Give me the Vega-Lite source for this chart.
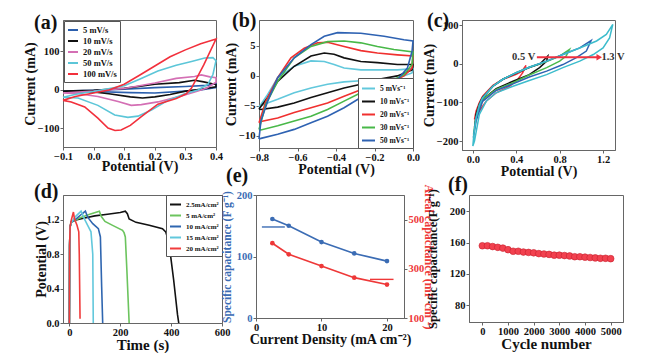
{
  "$schema": "https://vega.github.io/schema/vega-lite/v6.json",
  "padding": {"left": 22, "top": 10, "right": 0, "bottom": 0},
  "background": "white",
  "spacing": -14,
  "resolve": {"scale": {"color": "independent", "x": "independent", "y": "independent"}, "legend": {"color": "independent"}},
  "config": {
    "font": "Liberation Serif",
    "view": {"stroke": "#666", "strokeWidth": 1},
    "axis": {"grid": false, "labelFont": "Liberation Serif", "labelFontWeight": "bold", "labelFontSize": 10.5, "labelColor": "#111", "titleFont": "Liberation Serif", "titleFontWeight": "bold", "titleFontSize": 14, "titleColor": "#111", "domainColor": "#666", "tickColor": "#666", "tickSize": 3, "labelPadding": 1, "titlePadding": 0, "labelFlush": false, "labelOverlap": false, "labelBound": false},
    "title": {"font": "Liberation Serif", "fontSize": 20, "fontWeight": "bold", "anchor": "start", "frame": "group", "color": "#111"},
    "legend": {"labelFont": "Liberation Serif", "labelFontWeight": "bold", "labelColor": "#111", "symbolType": "stroke", "symbolStrokeWidth": 2, "strokeColor": "#555", "fillColor": "white", "padding": 3, "rowPadding": 0, "title": null}
  },
  "datasets": {
    "a": [
      {"s":"5 mV/s","v":-0.1,"c":-3},{"s":"5 mV/s","v":0.0,"c":-1},{"s":"5 mV/s","v":0.1,"c":2},{"s":"5 mV/s","v":0.2,"c":6},{"s":"5 mV/s","v":0.3,"c":9},{"s":"5 mV/s","v":0.37,"c":12},{"s":"5 mV/s","v":0.4,"c":16},{"s":"5 mV/s","v":0.4,"c":6},{"s":"5 mV/s","v":0.35,"c":0},{"s":"5 mV/s","v":0.3,"c":-3},{"s":"5 mV/s","v":0.2,"c":-8},{"s":"5 mV/s","v":0.12,"c":-7},{"s":"5 mV/s","v":0.0,"c":-4},{"s":"5 mV/s","v":-0.1,"c":-3},
      {"s":"10 mV/s","v":-0.1,"c":-3},{"s":"10 mV/s","v":0.0,"c":-1},{"s":"10 mV/s","v":0.1,"c":4},{"s":"10 mV/s","v":0.2,"c":15},{"s":"10 mV/s","v":0.28,"c":19},{"s":"10 mV/s","v":0.33,"c":25},{"s":"10 mV/s","v":0.36,"c":21},{"s":"10 mV/s","v":0.4,"c":14},{"s":"10 mV/s","v":0.4,"c":8},{"s":"10 mV/s","v":0.35,"c":2},{"s":"10 mV/s","v":0.3,"c":-3},{"s":"10 mV/s","v":0.25,"c":-12},{"s":"10 mV/s","v":0.2,"c":-18},{"s":"10 mV/s","v":0.16,"c":-21},{"s":"10 mV/s","v":0.12,"c":-18},{"s":"10 mV/s","v":0.05,"c":-10},{"s":"10 mV/s","v":0.0,"c":-5},{"s":"10 mV/s","v":-0.1,"c":-3},
      {"s":"20 mV/s","v":-0.1,"c":-8},{"s":"20 mV/s","v":0.0,"c":-3},{"s":"20 mV/s","v":0.1,"c":4},{"s":"20 mV/s","v":0.2,"c":18},{"s":"20 mV/s","v":0.27,"c":30},{"s":"20 mV/s","v":0.33,"c":35},{"s":"20 mV/s","v":0.352,"c":39},{"s":"20 mV/s","v":0.38,"c":34},{"s":"20 mV/s","v":0.4,"c":32},{"s":"20 mV/s","v":0.4,"c":20},{"s":"20 mV/s","v":0.37,"c":5},{"s":"20 mV/s","v":0.341,"c":-3},{"s":"20 mV/s","v":0.276,"c":-18},{"s":"20 mV/s","v":0.21,"c":-31},{"s":"20 mV/s","v":0.156,"c":-38},{"s":"20 mV/s","v":0.123,"c":-40},{"s":"20 mV/s","v":0.08,"c":-30},{"s":"20 mV/s","v":0.014,"c":-17},{"s":"20 mV/s","v":-0.05,"c":-10},{"s":"20 mV/s","v":-0.1,"c":-8},
      {"s":"50 mV/s","v":-0.1,"c":-19},{"s":"50 mV/s","v":-0.05,"c":-10},{"s":"50 mV/s","v":0.0,"c":-4},{"s":"50 mV/s","v":0.1,"c":11},{"s":"50 mV/s","v":0.15,"c":28},{"s":"50 mV/s","v":0.21,"c":49},{"s":"50 mV/s","v":0.27,"c":64},{"s":"50 mV/s","v":0.32,"c":74},{"s":"50 mV/s","v":0.363,"c":83},{"s":"50 mV/s","v":0.39,"c":84},{"s":"50 mV/s","v":0.4,"c":76},{"s":"50 mV/s","v":0.39,"c":40},{"s":"50 mV/s","v":0.374,"c":15},{"s":"50 mV/s","v":0.341,"c":0},{"s":"50 mV/s","v":0.298,"c":-10},{"s":"50 mV/s","v":0.243,"c":-27},{"s":"50 mV/s","v":0.189,"c":-52},{"s":"50 mV/s","v":0.145,"c":-68},{"s":"50 mV/s","v":0.112,"c":-71},{"s":"50 mV/s","v":0.069,"c":-65},{"s":"50 mV/s","v":0.014,"c":-40},{"s":"50 mV/s","v":-0.051,"c":-21},{"s":"50 mV/s","v":-0.1,"c":-19},
      {"s":"100 mV/s","v":-0.1,"c":-27},{"s":"100 mV/s","v":-0.06,"c":-17},{"s":"100 mV/s","v":0.0,"c":-8},{"s":"100 mV/s","v":0.05,"c":0},{"s":"100 mV/s","v":0.1,"c":15},{"s":"100 mV/s","v":0.15,"c":38},{"s":"100 mV/s","v":0.2,"c":62},{"s":"100 mV/s","v":0.25,"c":86},{"s":"100 mV/s","v":0.3,"c":104},{"s":"100 mV/s","v":0.35,"c":120},{"s":"100 mV/s","v":0.4,"c":132},{"s":"100 mV/s","v":0.36,"c":65},{"s":"100 mV/s","v":0.32,"c":5},{"s":"100 mV/s","v":0.303,"c":-10},{"s":"100 mV/s","v":0.27,"c":-22},{"s":"100 mV/s","v":0.21,"c":-37},{"s":"100 mV/s","v":0.156,"c":-69},{"s":"100 mV/s","v":0.12,"c":-92},{"s":"100 mV/s","v":0.09,"c":-104},{"s":"100 mV/s","v":0.07,"c":-105},{"s":"100 mV/s","v":0.047,"c":-99},{"s":"100 mV/s","v":0.014,"c":-73},{"s":"100 mV/s","v":-0.029,"c":-44},{"s":"100 mV/s","v":-0.073,"c":-31},{"s":"100 mV/s","v":-0.1,"c":-27}
    ],
    "b": [
      {"s":"5 mVs⁻¹","v":-0.8,"c":-5.2},{"s":"5 mVs⁻¹","v":-0.755,"c":-3.1},{"s":"5 mVs⁻¹","v":-0.703,"c":-0.3},{"s":"5 mVs⁻¹","v":-0.617,"c":1.6},{"s":"5 mVs⁻¹","v":-0.53,"c":2.5},{"s":"5 mVs⁻¹","v":-0.461,"c":2.4},{"s":"5 mVs⁻¹","v":-0.41,"c":1.9},{"s":"5 mVs⁻¹","v":-0.358,"c":1.3},{"s":"5 mVs⁻¹","v":-0.271,"c":1.0},{"s":"5 mVs⁻¹","v":-0.185,"c":1.0},{"s":"5 mVs⁻¹","v":-0.081,"c":1.0},{"s":"5 mVs⁻¹","v":0,"c":1.2},{"s":"5 mVs⁻¹","v":-0.005,"c":0.5},{"s":"5 mVs⁻¹","v":-0.081,"c":-0.4},{"s":"5 mVs⁻¹","v":-0.185,"c":-0.6},{"s":"5 mVs⁻¹","v":-0.271,"c":-0.8},{"s":"5 mVs⁻¹","v":-0.358,"c":-1.0},{"s":"5 mVs⁻¹","v":-0.444,"c":-1.4},{"s":"5 mVs⁻¹","v":-0.53,"c":-2.0},{"s":"5 mVs⁻¹","v":-0.617,"c":-2.8},{"s":"5 mVs⁻¹","v":-0.703,"c":-3.9},{"s":"5 mVs⁻¹","v":-0.773,"c":-4.7},{"s":"5 mVs⁻¹","v":-0.8,"c":-5.2},
      {"s":"10 mVs⁻¹","v":-0.8,"c":-5.5},{"s":"10 mVs⁻¹","v":-0.755,"c":-3.6},{"s":"10 mVs⁻¹","v":-0.703,"c":-0.9},{"s":"10 mVs⁻¹","v":-0.617,"c":1.6},{"s":"10 mVs⁻¹","v":-0.53,"c":3.3},{"s":"10 mVs⁻¹","v":-0.461,"c":3.8},{"s":"10 mVs⁻¹","v":-0.41,"c":3.6},{"s":"10 mVs⁻¹","v":-0.358,"c":3.0},{"s":"10 mVs⁻¹","v":-0.271,"c":2.4},{"s":"10 mVs⁻¹","v":-0.185,"c":2.2},{"s":"10 mVs⁻¹","v":-0.081,"c":1.9},{"s":"10 mVs⁻¹","v":0,"c":1.9},{"s":"10 mVs⁻¹","v":-0.005,"c":1.0},{"s":"10 mVs⁻¹","v":-0.081,"c":0},{"s":"10 mVs⁻¹","v":-0.185,"c":-0.6},{"s":"10 mVs⁻¹","v":-0.271,"c":-1.4},{"s":"10 mVs⁻¹","v":-0.358,"c":-2.0},{"s":"10 mVs⁻¹","v":-0.444,"c":-2.8},{"s":"10 mVs⁻¹","v":-0.53,"c":-3.6},{"s":"10 mVs⁻¹","v":-0.617,"c":-4.5},{"s":"10 mVs⁻¹","v":-0.703,"c":-5.2},{"s":"10 mVs⁻¹","v":-0.79,"c":-5.6},{"s":"10 mVs⁻¹","v":-0.8,"c":-5.5},
      {"s":"20 mVs⁻¹","v":-0.8,"c":-7.8},{"s":"20 mVs⁻¹","v":-0.764,"c":-4.2},{"s":"20 mVs⁻¹","v":-0.703,"c":-0.3},{"s":"20 mVs⁻¹","v":-0.634,"c":3.0},{"s":"20 mVs⁻¹","v":-0.565,"c":4.6},{"s":"20 mVs⁻¹","v":-0.496,"c":5.5},{"s":"20 mVs⁻¹","v":-0.444,"c":5.6},{"s":"20 mVs⁻¹","v":-0.358,"c":4.9},{"s":"20 mVs⁻¹","v":-0.271,"c":4.2},{"s":"20 mVs⁻¹","v":-0.185,"c":3.8},{"s":"20 mVs⁻¹","v":-0.081,"c":3.5},{"s":"20 mVs⁻¹","v":0,"c":3.3},{"s":"20 mVs⁻¹","v":-0.005,"c":1.3},{"s":"20 mVs⁻¹","v":-0.047,"c":0},{"s":"20 mVs⁻¹","v":-0.099,"c":-0.8},{"s":"20 mVs⁻¹","v":-0.185,"c":-1.4},{"s":"20 mVs⁻¹","v":-0.271,"c":-2.3},{"s":"20 mVs⁻¹","v":-0.358,"c":-3.4},{"s":"20 mVs⁻¹","v":-0.444,"c":-4.5},{"s":"20 mVs⁻¹","v":-0.53,"c":-5.3},{"s":"20 mVs⁻¹","v":-0.617,"c":-6.1},{"s":"20 mVs⁻¹","v":-0.703,"c":-7.0},{"s":"20 mVs⁻¹","v":-0.79,"c":-7.6},{"s":"20 mVs⁻¹","v":-0.8,"c":-7.8},
      {"s":"30 mVs⁻¹","v":-0.8,"c":-8.9},{"s":"30 mVs⁻¹","v":-0.764,"c":-4.7},{"s":"30 mVs⁻¹","v":-0.703,"c":-0.9},{"s":"30 mVs⁻¹","v":-0.617,"c":3.0},{"s":"30 mVs⁻¹","v":-0.53,"c":4.9},{"s":"30 mVs⁻¹","v":-0.444,"c":5.7},{"s":"30 mVs⁻¹","v":-0.358,"c":5.8},{"s":"30 mVs⁻¹","v":-0.271,"c":5.5},{"s":"30 mVs⁻¹","v":-0.185,"c":4.9},{"s":"30 mVs⁻¹","v":-0.099,"c":4.4},{"s":"30 mVs⁻¹","v":0,"c":4.0},{"s":"30 mVs⁻¹","v":-0.005,"c":1.9},{"s":"30 mVs⁻¹","v":-0.047,"c":0.2},{"s":"30 mVs⁻¹","v":-0.099,"c":-0.6},{"s":"30 mVs⁻¹","v":-0.185,"c":-1.4},{"s":"30 mVs⁻¹","v":-0.271,"c":-2.8},{"s":"30 mVs⁻¹","v":-0.358,"c":-4.2},{"s":"30 mVs⁻¹","v":-0.444,"c":-5.6},{"s":"30 mVs⁻¹","v":-0.53,"c":-6.7},{"s":"30 mVs⁻¹","v":-0.617,"c":-7.5},{"s":"30 mVs⁻¹","v":-0.703,"c":-8.3},{"s":"30 mVs⁻¹","v":-0.79,"c":-9.0},{"s":"30 mVs⁻¹","v":-0.8,"c":-8.9},
      {"s":"50 mVs⁻¹","v":-0.8,"c":-10.5},{"s":"50 mVs⁻¹","v":-0.79,"c":-7.5},{"s":"50 mVs⁻¹","v":-0.755,"c":-4.2},{"s":"50 mVs⁻¹","v":-0.703,"c":-0.3},{"s":"50 mVs⁻¹","v":-0.617,"c":3.0},{"s":"50 mVs⁻¹","v":-0.53,"c":5.2},{"s":"50 mVs⁻¹","v":-0.461,"c":6.6},{"s":"50 mVs⁻¹","v":-0.392,"c":7.2},{"s":"50 mVs⁻¹","v":-0.271,"c":7.1},{"s":"50 mVs⁻¹","v":-0.15,"c":6.6},{"s":"50 mVs⁻¹","v":-0.047,"c":6.0},{"s":"50 mVs⁻¹","v":0,"c":5.8},{"s":"50 mVs⁻¹","v":-0.005,"c":4.1},{"s":"50 mVs⁻¹","v":-0.029,"c":1.3},{"s":"50 mVs⁻¹","v":-0.081,"c":-0.6},{"s":"50 mVs⁻¹","v":-0.185,"c":-2.0},{"s":"50 mVs⁻¹","v":-0.271,"c":-3.6},{"s":"50 mVs⁻¹","v":-0.358,"c":-5.3},{"s":"50 mVs⁻¹","v":-0.444,"c":-6.7},{"s":"50 mVs⁻¹","v":-0.53,"c":-7.8},{"s":"50 mVs⁻¹","v":-0.617,"c":-8.9},{"s":"50 mVs⁻¹","v":-0.703,"c":-9.7},{"s":"50 mVs⁻¹","v":-0.79,"c":-10.4},{"s":"50 mVs⁻¹","v":-0.8,"c":-10.5}
    ],
    "c": [
      {"s":"0.5","v":0.015,"c":-144},{"s":"0.5","v":0.03,"c":-122},{"s":"0.5","v":0.06,"c":-100},{"s":"0.5","v":0.09,"c":-84},{"s":"0.5","v":0.185,"c":-56},{"s":"0.5","v":0.277,"c":-40},{"s":"0.5","v":0.4,"c":-27},{"s":"0.5","v":0.45,"c":-20},{"s":"0.5","v":0.49,"c":-4},{"s":"0.5","v":0.46,"c":-23},{"s":"0.5","v":0.415,"c":-40},{"s":"0.5","v":0.34,"c":-58},{"s":"0.5","v":0.215,"c":-75},{"s":"0.5","v":0.123,"c":-97},{"s":"0.5","v":0.06,"c":-122},{"s":"0.5","v":0.015,"c":-144},
      {"s":"0.7","v":0.015,"c":-165},{"s":"0.7","v":0.03,"c":-130},{"s":"0.7","v":0.06,"c":-104},{"s":"0.7","v":0.09,"c":-87},{"s":"0.7","v":0.185,"c":-58},{"s":"0.7","v":0.277,"c":-40},{"s":"0.7","v":0.4,"c":-24},{"s":"0.7","v":0.52,"c":-10},{"s":"0.7","v":0.62,"c":0},{"s":"0.7","v":0.69,"c":20},{"s":"0.7","v":0.68,"c":7},{"s":"0.7","v":0.615,"c":-10},{"s":"0.7","v":0.52,"c":-28},{"s":"0.7","v":0.37,"c":-45},{"s":"0.7","v":0.215,"c":-64},{"s":"0.7","v":0.09,"c":-92},{"s":"0.7","v":0.03,"c":-135},{"s":"0.7","v":0.015,"c":-165},
      {"s":"0.9","v":0.006,"c":-183},{"s":"0.9","v":0.03,"c":-138},{"s":"0.9","v":0.06,"c":-106},{"s":"0.9","v":0.09,"c":-88},{"s":"0.9","v":0.185,"c":-58},{"s":"0.9","v":0.277,"c":-40},{"s":"0.9","v":0.4,"c":-23},{"s":"0.9","v":0.52,"c":-9},{"s":"0.9","v":0.68,"c":6},{"s":"0.9","v":0.8,"c":20},{"s":"0.9","v":0.89,"c":37},{"s":"0.9","v":0.86,"c":20},{"s":"0.9","v":0.8,"c":7},{"s":"0.9","v":0.68,"c":-10},{"s":"0.9","v":0.52,"c":-29},{"s":"0.9","v":0.37,"c":-49},{"s":"0.9","v":0.215,"c":-66},{"s":"0.9","v":0.09,"c":-92},{"s":"0.9","v":0.03,"c":-140},{"s":"0.9","v":0.006,"c":-183},
      {"s":"1.1","v":0.005,"c":-191},{"s":"1.1","v":0.03,"c":-140},{"s":"1.1","v":0.06,"c":-107},{"s":"1.1","v":0.09,"c":-88},{"s":"1.1","v":0.185,"c":-58},{"s":"1.1","v":0.277,"c":-40},{"s":"1.1","v":0.4,"c":-23},{"s":"1.1","v":0.52,"c":-9},{"s":"1.1","v":0.68,"c":7},{"s":"1.1","v":0.83,"c":24},{"s":"1.1","v":0.985,"c":41},{"s":"1.1","v":1.09,"c":60},{"s":"1.1","v":1.046,"c":33},{"s":"1.1","v":0.954,"c":16},{"s":"1.1","v":0.83,"c":-2},{"s":"1.1","v":0.68,"c":-19},{"s":"1.1","v":0.52,"c":-34},{"s":"1.1","v":0.37,"c":-52},{"s":"1.1","v":0.215,"c":-69},{"s":"1.1","v":0.09,"c":-97},{"s":"1.1","v":0.03,"c":-148},{"s":"1.1","v":0.005,"c":-191},
      {"s":"1.3","v":0.0,"c":-213},{"s":"1.3","v":0.01,"c":-180},{"s":"1.3","v":0.03,"c":-140},{"s":"1.3","v":0.06,"c":-108},{"s":"1.3","v":0.09,"c":-88},{"s":"1.3","v":0.185,"c":-58},{"s":"1.3","v":0.277,"c":-40},{"s":"1.3","v":0.4,"c":-23},{"s":"1.3","v":0.52,"c":-9},{"s":"1.3","v":0.68,"c":7},{"s":"1.3","v":0.83,"c":24},{"s":"1.3","v":0.985,"c":41},{"s":"1.3","v":1.14,"c":59},{"s":"1.3","v":1.23,"c":76},{"s":"1.3","v":1.29,"c":102},{"s":"1.3","v":1.26,"c":67},{"s":"1.3","v":1.2,"c":41},{"s":"1.3","v":1.11,"c":24},{"s":"1.3","v":0.985,"c":7},{"s":"1.3","v":0.83,"c":-10},{"s":"1.3","v":0.68,"c":-28},{"s":"1.3","v":0.52,"c":-43},{"s":"1.3","v":0.37,"c":-58},{"s":"1.3","v":0.215,"c":-75},{"s":"1.3","v":0.123,"c":-97},{"s":"1.3","v":0.06,"c":-131},{"s":"1.3","v":0.015,"c":-200},{"s":"1.3","v":0.0,"c":-213}
    ],
    "carrow": [{"x":0.59,"x2":1.15,"y":17}],
    "chead": [{"x":1.165,"y":17}],
    "ctext1": [{"x":0.575,"y":17,"t":"0.5 V"}],
    "ctext2": [{"x":1.185,"y":17,"t":"1.3 V"}],
    "d": [
      {"s":"2.5mA/cm²","t":0,"p":0},{"s":"2.5mA/cm²","t":1,"p":0.9},{"s":"2.5mA/cm²","t":3,"p":1.12},{"s":"2.5mA/cm²","t":8,"p":1.18},{"s":"2.5mA/cm²","t":30,"p":1.2},{"s":"2.5mA/cm²","t":60,"p":1.22},{"s":"2.5mA/cm²","t":100,"p":1.245},{"s":"2.5mA/cm²","t":150,"p":1.265},{"s":"2.5mA/cm²","t":200,"p":1.285},{"s":"2.5mA/cm²","t":220,"p":1.3},{"s":"2.5mA/cm²","t":228,"p":1.27},{"s":"2.5mA/cm²","t":235,"p":1.21},{"s":"2.5mA/cm²","t":262,"p":1.17},{"s":"2.5mA/cm²","t":314,"p":1.136},{"s":"2.5mA/cm²","t":366,"p":1.097},{"s":"2.5mA/cm²","t":379,"p":1.058},{"s":"2.5mA/cm²","t":385,"p":1.0},{"s":"2.5mA/cm²","t":392,"p":0.92},{"s":"2.5mA/cm²","t":410,"p":0.5},{"s":"2.5mA/cm²","t":425,"p":0.1},{"s":"2.5mA/cm²","t":430,"p":0},
      {"s":"5 mA/cm²","t":0,"p":0},{"s":"5 mA/cm²","t":1,"p":0.9},{"s":"5 mA/cm²","t":3,"p":1.12},{"s":"5 mA/cm²","t":8,"p":1.17},{"s":"5 mA/cm²","t":40,"p":1.22},{"s":"5 mA/cm²","t":80,"p":1.265},{"s":"5 mA/cm²","t":118,"p":1.3},{"s":"5 mA/cm²","t":125,"p":1.24},{"s":"5 mA/cm²","t":140,"p":1.18},{"s":"5 mA/cm²","t":170,"p":1.135},{"s":"5 mA/cm²","t":209,"p":1.078},{"s":"5 mA/cm²","t":215,"p":1.05},{"s":"5 mA/cm²","t":220,"p":1.0},{"s":"5 mA/cm²","t":226,"p":0.62},{"s":"5 mA/cm²","t":235,"p":0},
      {"s":"10 mA/cm²","t":0,"p":0},{"s":"10 mA/cm²","t":1,"p":0.9},{"s":"10 mA/cm²","t":3,"p":1.12},{"s":"10 mA/cm²","t":8,"p":1.17},{"s":"10 mA/cm²","t":30,"p":1.22},{"s":"10 mA/cm²","t":50,"p":1.27},{"s":"10 mA/cm²","t":63,"p":1.3},{"s":"10 mA/cm²","t":72,"p":1.23},{"s":"10 mA/cm²","t":92,"p":1.155},{"s":"10 mA/cm²","t":114,"p":1.097},{"s":"10 mA/cm²","t":122,"p":1.0},{"s":"10 mA/cm²","t":127,"p":0.42},{"s":"10 mA/cm²","t":131,"p":0},
      {"s":"15 mA/cm²","t":0,"p":0},{"s":"15 mA/cm²","t":1,"p":0.9},{"s":"15 mA/cm²","t":3,"p":1.12},{"s":"15 mA/cm²","t":8,"p":1.17},{"s":"15 mA/cm²","t":25,"p":1.24},{"s":"15 mA/cm²","t":46,"p":1.3},{"s":"15 mA/cm²","t":59,"p":1.21},{"s":"15 mA/cm²","t":72,"p":1.136},{"s":"15 mA/cm²","t":85,"p":1.06},{"s":"15 mA/cm²","t":92,"p":0.8},{"s":"15 mA/cm²","t":94,"p":0},
      {"s":"20 mA/cm²","t":0,"p":0},{"s":"20 mA/cm²","t":1,"p":0.9},{"s":"20 mA/cm²","t":3,"p":1.12},{"s":"20 mA/cm²","t":8,"p":1.2},{"s":"20 mA/cm²","t":16,"p":1.29},{"s":"20 mA/cm²","t":20,"p":1.21},{"s":"20 mA/cm²","t":30,"p":1.136},{"s":"20 mA/cm²","t":37,"p":1.06},{"s":"20 mA/cm²","t":39,"p":0.8},{"s":"20 mA/cm²","t":42,"p":0.05}
    ],
    "es": [{"x":2.5,"y":161},{"x":5,"y":150},{"x":10,"y":123.5},{"x":15,"y":105},{"x":20,"y":92.5}],
    "esa": [{"x":0.9,"x2":4.4,"y":148}],
    "ea": [{"x":2.5,"y":404},{"x":5,"y":359},{"x":10,"y":311},{"x":15,"y":264},{"x":20,"y":236}],
    "eaa": [{"x":17.4,"x2":21,"y":257}],
    "f": [{"n":0,"y":156},{"n":200,"y":156},{"n":400,"y":155},{"n":600,"y":154},{"n":800,"y":153},{"n":1000,"y":151},{"n":1200,"y":149},{"n":1400,"y":149},{"n":1600,"y":148},{"n":1800,"y":147.5},{"n":2000,"y":147},{"n":2200,"y":146},{"n":2400,"y":145.5},{"n":2600,"y":145},{"n":2800,"y":144},{"n":3000,"y":144},{"n":3200,"y":143.5},{"n":3400,"y":143},{"n":3600,"y":142},{"n":3800,"y":142},{"n":4000,"y":141.5},{"n":4200,"y":141},{"n":4400,"y":140.5},{"n":4600,"y":140},{"n":4800,"y":140},{"n":5000,"y":139.5}]
  },
  "vconcat": [
    {
      "spacing": 0,
      "resolve": {"scale": {"color": "independent", "x": "independent", "y": "independent"}, "legend": {"color": "independent"}},
      "hconcat": [
        {
          "width": 153, "height": 127,
          "title": {"text": "(a)", "dx": -29, "offset": -13},
          "data": {"name": "a"},
          "mark": {"type": "line", "strokeWidth": 1.6},
          "encoding": {
            "x": {"field": "v", "type": "quantitative", "scale": {"domain": [-0.1, 0.4], "nice": false, "zero": false}, "axis": {"title": "Potential (V)", "values": [-0.1, 0, 0.1, 0.2, 0.3, 0.4], "format": ".1f", "titlePadding": -2}},
            "y": {"field": "c", "type": "quantitative", "scale": {"domain": [-148, 181.5], "nice": false}, "axis": {"title": "Current (mA)", "values": [-100, 0, 100]}},
            "color": {"field": "s", "type": "nominal", "scale": {"domain": ["5 mV/s", "10 mV/s", "20 mV/s", "50 mV/s", "100 mV/s"], "range": ["#2b5fad", "#111111", "#d46fb4", "#5cc6d8", "#f2303c"]}, "legend": {"orient": "top-left", "offset": 1, "labelFontSize": 8.5, "symbolSize": 100}},
            "order": {"value": null}
          }
        },
        {
          "width": 154, "height": 128,
          "title": {"text": "(b)", "dx": -27, "offset": -11},
          "data": {"name": "b"},
          "mark": {"type": "line", "strokeWidth": 1.6},
          "encoding": {
            "x": {"field": "v", "type": "quantitative", "scale": {"domain": [-0.8, 0.0], "nice": false, "zero": false}, "axis": {"title": "Potential (V)", "values": [-0.8, -0.6, -0.4, -0.2, 0], "format": ".1f"}},
            "y": {"field": "c", "type": "quantitative", "scale": {"domain": [-12, 9.3], "nice": false}, "axis": {"title": "Current (mA)", "values": [-10, -5, 0, 5]}},
            "color": {"field": "s", "type": "nominal", "scale": {"domain": ["5 mVs⁻¹", "10 mVs⁻¹", "20 mVs⁻¹", "30 mVs⁻¹", "50 mVs⁻¹"], "range": ["#62c8dc", "#111111", "#f0302f", "#48b848", "#2e62b2"]}, "legend": {"orient": "bottom-right", "offset": 0, "labelFontSize": 7.5, "symbolSize": 169, "rowPadding": 1}},
            "order": {"value": null}
          }
        },
        {
          "width": 153, "height": 130,
          "title": {"text": "(c)", "dx": -35, "offset": -11},
          "layer": [
            {
              "data": {"name": "c"},
              "mark": {"type": "line", "strokeWidth": 1.5},
              "encoding": {
                "x": {"field": "v", "type": "quantitative", "scale": {"domain": [-0.1, 1.31], "nice": false, "zero": false}, "axis": {"title": "Potential (V)", "values": [0, 0.4, 0.8, 1.2], "format": ".1f"}},
                "y": {"field": "c", "type": "quantitative", "scale": {"domain": [-223, 113.3], "nice": false}, "axis": {"title": "Current (mA)", "values": [-200, -100, 0, 100]}},
                "color": {"field": "s", "type": "nominal", "scale": {"domain": ["0.5", "0.7", "0.9", "1.1", "1.3"], "range": ["#f0303a", "#111111", "#4cba4c", "#2e62b2", "#3cbccc"]}, "legend": null},
                "order": {"value": null}
              }
            },
            {
              "data": {"name": "carrow"},
              "mark": {"type": "rule", "color": "#f03040", "strokeWidth": 2},
              "encoding": {"x": {"field": "x", "type": "quantitative"}, "x2": {"field": "x2"}, "y": {"field": "y", "type": "quantitative"}}
            },
            {
              "data": {"name": "chead"},
              "mark": {"type": "point", "shape": "triangle-right", "filled": true, "color": "#f03040", "size": 40, "opacity": 1},
              "encoding": {"x": {"field": "x", "type": "quantitative"}, "y": {"field": "y", "type": "quantitative"}}
            },
            {
              "data": {"name": "ctext1"},
              "mark": {"type": "text", "align": "right", "baseline": "middle", "font": "Liberation Serif", "fontWeight": "bold", "fontSize": 10.5, "color": "#333"},
              "encoding": {"x": {"field": "x", "type": "quantitative"}, "y": {"field": "y", "type": "quantitative"}, "text": {"field": "t"}}
            },
            {
              "data": {"name": "ctext2"},
              "mark": {"type": "text", "align": "left", "baseline": "middle", "font": "Liberation Serif", "fontWeight": "bold", "fontSize": 10.5, "color": "#333"},
              "encoding": {"x": {"field": "x", "type": "quantitative"}, "y": {"field": "y", "type": "quantitative"}, "text": {"field": "t"}}
            }
          ]
        }
      ]
    },
    {
      "spacing": -11,
      "resolve": {"scale": {"color": "independent", "x": "independent", "y": "independent"}, "legend": {"color": "independent"}},
      "hconcat": [
        {
          "width": 159, "height": 128,
          "title": {"text": "(d)", "dx": -29, "offset": -7},
          "data": {"name": "d"},
          "mark": {"type": "line", "strokeWidth": 1.6},
          "encoding": {
            "x": {"field": "t", "type": "quantitative", "scale": {"domain": [-25, 600], "nice": false, "zero": false}, "axis": {"title": "Time (s)", "values": [0, 200, 400, 600], "titleFontSize": 15}},
            "y": {"field": "p", "type": "quantitative", "scale": {"domain": [0, 1.488], "nice": false}, "axis": {"title": "Potential (V)", "values": [0, 0.4, 0.8, 1.2], "format": ".1f", "titlePadding": -3}},
            "color": {"field": "s", "type": "nominal", "scale": {"domain": ["2.5mA/cm²", "5 mA/cm²", "10 mA/cm²", "15 mA/cm²", "20 mA/cm²"], "range": ["#111111", "#6cc45e", "#2f66b0", "#62c8dc", "#f03c3c"]}, "legend": {"orient": "top-right", "offset": 0, "labelFontSize": 7, "symbolSize": 121}},
            "order": {"value": null}
          }
        },
        {
          "width": 148, "height": 123,
          "title": {"text": "(e)", "dx": -30, "offset": -2},
          "layer": [
            {
              "layer": [
                {
                  "data": {"name": "es"},
                  "mark": {"type": "line", "color": "#3b6cb4", "strokeWidth": 1.6, "point": {"filled": true, "size": 22, "color": "#3b6cb4"}},
                  "encoding": {
                    "x": {"field": "x", "type": "quantitative", "scale": {"domain": [0, 22.6], "nice": false}, "axis": {"title": "Current Density (mA cm⁻²)", "values": [0, 5, 10, 15, 20]}},
                    "y": {"field": "y", "type": "quantitative", "scale": {"domain": [0, 200], "nice": false}, "axis": {"title": "Specific capacitance (F g⁻¹)", "orient": "left", "values": [0, 50, 100, 150, 200], "labelColor": "#3b6cb4", "titleColor": "#3b6cb4", "titleFontSize": 11.5, "titlePadding": 4}}
                  }
                },
                {
                  "data": {"name": "esa"},
                  "mark": {"type": "rule", "color": "#3b6cb4", "strokeWidth": 1.4},
                  "encoding": {"x": {"field": "x", "type": "quantitative"}, "x2": {"field": "x2"}, "y": {"field": "y", "type": "quantitative"}}
                }
              ]
            },
            {
              "layer": [
                {
                  "data": {"name": "ea"},
                  "mark": {"type": "line", "color": "#ee3838", "strokeWidth": 1.6, "point": {"filled": true, "size": 22, "color": "#ee3838"}},
                  "encoding": {
                    "x": {"field": "x", "type": "quantitative"},
                    "y": {"field": "y", "type": "quantitative", "scale": {"domain": [100, 600], "nice": false, "zero": false}, "axis": {"title": "Areal capacitance (mF cm⁻²)", "orient": "right", "values": [100, 200, 300, 400, 500, 600], "labelColor": "#ee3838", "titleColor": "#ee3838", "titleFontSize": 12, "titlePadding": -2}}
                  }
                },
                {
                  "data": {"name": "eaa"},
                  "mark": {"type": "rule", "color": "#ee3838", "strokeWidth": 1.4},
                  "encoding": {"x": {"field": "x", "type": "quantitative"}, "x2": {"field": "x2"}, "y": {"field": "y", "type": "quantitative"}}
                }
              ]
            }
          ],
          "resolve": {"scale": {"y": "independent"}}
        },
        {
          "width": 154, "height": 127,
          "title": {"text": "(f)", "dx": -21, "offset": -7},
          "data": {"name": "f"},
          "mark": {"type": "circle", "size": 45, "color": "#f2414f", "stroke": "#c8202e", "strokeWidth": 0.6, "opacity": 1},
          "encoding": {
            "x": {"field": "n", "type": "quantitative", "scale": {"domain": [-520, 5480], "nice": false, "zero": false}, "axis": {"title": "Cycle number", "values": [0, 1000, 2000, 3000, 4000, 5000], "format": "d", "titleFontSize": 15}},
            "y": {"field": "y", "type": "quantitative", "scale": {"domain": [58.7, 220.8], "nice": false, "zero": false}, "axis": {"title": "Specific capacitance(F g⁻¹)", "values": [80, 120, 160, 200], "titleFontSize": 12.5, "titlePadding": 10}}
          }
        }
      ]
    }
  ]
}
